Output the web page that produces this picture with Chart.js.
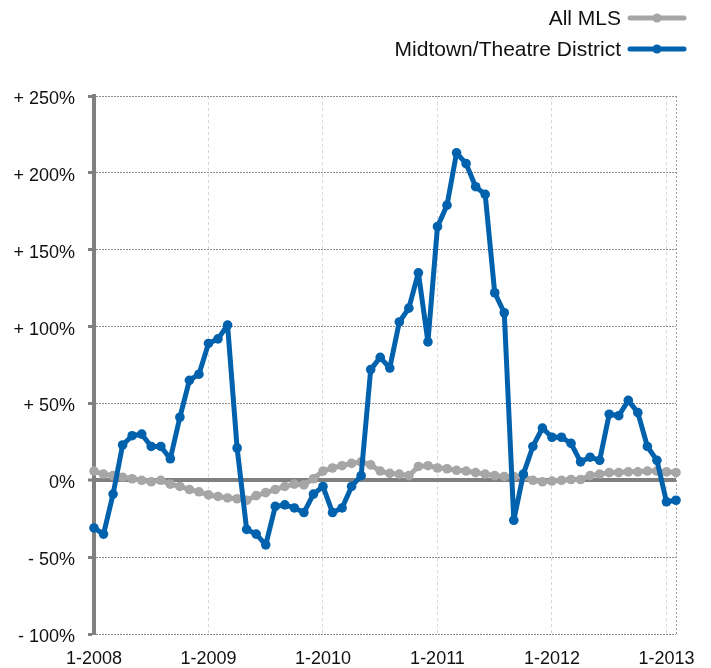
<!DOCTYPE html>
<html>
<head>
<meta charset="utf-8">
<script src="https://cdn.jsdelivr.net/npm/chart.js@4/dist/chart.umd.min.js"></script>
<style>
  html, body { margin: 0; padding: 0; background: #fff; }
  #wrap { width: 711px; height: 668px; }
</style>
</head>
<body>
<div id="wrap"><canvas id="priceChange" width="711" height="668"></canvas></div>
<script>
// monthly change vs. year before, 1-2008 .. 2-2013
var years = [2008, 2009, 2010, 2011, 2012, 2013];
var allMls = [6, 4, 3, 2, 1, 0, -1, 0, -2.5, -4, -6, -7.5, -9.5, -10.5, -11.5, -12, -13, -10, -8, -6,
  -4, -2.5, -3, 1, 6, 8, 9.5, 11, 12, 10, 6, 4.5, 4, 3, 9, 9.5, 8, 7.5, 6.5, 6,
  5, 4, 3, 2.5, 2.5, 2.5, 0, -1, -0.5, 0, 0.5, 0.5, 3, 4, 5, 5, 5.5, 5.5, 6, 6, 5.5, 5];
var midtown = [-31, -35, -9, 23, 29, 30, 22, 22, 14, 41, 65, 69, 89, 92, 101, 21, -32, -35, -42, -17,
  -16, -18, -21, -9, -4, -21, -18, -4, 3, 72, 80, 73, 103, 112, 135, 90, 165, 179, 213, 206,
  191, 186, 122, 109, -26, 4, 22, 34, 28, 28, 24, 12, 15, 13, 43, 42, 52, 44, 22, 13, -14, -13];
var yTicks = [-100, -50, 0, 50, 100, 150, 200, 250];

var months = [];
years.forEach(function(y) {
  for (var m = 1; m <= 12; m++) months.push(m + '-' + y);
});
months = months.slice(0, midtown.length);

var FONT = "'Liberation Sans', Arial, Helvetica, sans-serif";
var GRAY = '#a6a6a6';
var BLUE = '#0061ad';
var AXIS = '#808080';

// legend at top right: text, then a line sample with a dot
const rightLegend = {
  id: 'rightLegend',
  afterDraw: function(chart) {
    var ctx = chart.ctx;
    var rows = [chart.data.datasets[1], chart.data.datasets[0]];
    var ys = [18, 49];
    ctx.save();
    ctx.font = '21px ' + FONT;
    ctx.textAlign = 'right';
    ctx.textBaseline = 'middle';
    rows.forEach(function(ds, i) {
      ctx.fillStyle = '#111';
      ctx.fillText(ds.label, 621, ys[i] + 1);
      ctx.strokeStyle = ds.borderColor;
      ctx.lineWidth = 5;
      ctx.lineCap = 'round';
      ctx.beginPath();
      ctx.moveTo(630, ys[i]);
      ctx.lineTo(684, ys[i]);
      ctx.stroke();
      ctx.fillStyle = ds.borderColor;
      ctx.beginPath();
      ctx.arc(657, ys[i], 4.5, 0, Math.PI * 2);
      ctx.fill();
    });
    ctx.restore();
  }
};

var ctx = document.getElementById('priceChange').getContext('2d');
var chart = new Chart(ctx, {
  type: 'line',
  data: {
    labels: months,
    datasets: [{
      label: 'Midtown/Theatre District',
      data: midtown,
      borderColor: BLUE,
      backgroundColor: BLUE,
      borderWidth: 5,
      pointRadius: 4.8,
      pointBorderWidth: 0,
      tension: 0,
      clip: false,
      order: 1
    }, {
      label: 'All MLS',
      data: allMls,
      borderColor: GRAY,
      backgroundColor: GRAY,
      borderWidth: 5,
      pointRadius: 4.8,
      pointBorderWidth: 0,
      tension: 0,
      clip: false,
      order: 2
    }]
  },
  options: {
    responsive: false,
    animation: false,
    layout: { padding: { top: 96, right: 35, left: 0, bottom: 0 } },
    elements: { line: { borderCapStyle: 'round', borderJoinStyle: 'round' } },
    plugins: { legend: { display: false }, tooltip: { enabled: false } },
    scales: {
      x: {
        type: 'category',
        offset: false,
        afterFit: function(s) { s.height = 34; },
        border: {
          display: false,
          dash: function(c) { return c.index === months.length - 1 ? [2, 2] : [3, 3]; }
        },
        grid: {
          drawTicks: false,
          lineWidth: 1,
          color: function(c) {
            if (c.index === months.length - 1) return '#9a9a9a';
            if (c.index > 0 && c.index % 12 === 0) return '#d6d6d6';
            return 'rgba(0,0,0,0)';
          }
        },
        ticks: {
          autoSkip: false,
          maxRotation: 0,
          padding: 14,
          color: '#111',
          font: { family: FONT, size: 18 },
          callback: function(v, i) { return i % 12 === 0 ? months[i] : ''; }
        }
      },
      y: {
        min: -100,
        max: 250,
        afterFit: function(s) { s.width = 94; },
        afterBuildTicks: function(s) { s.ticks = yTicks.map(function(v) { return { value: v }; }); },
        border: {
          display: true,
          color: AXIS,
          width: 4,
          dash: function(c) {
            if (c.type !== 'tick') return [];
            return c.tick.value === 0 ? [] : [2, 1];
          }
        },
        grid: {
          color: function(c) { return c.tick && c.tick.value === 0 ? AXIS : '#8c8c8c'; },
          lineWidth: function(c) { return c.tick && c.tick.value === 0 ? 4 : 1; },
          drawTicks: true,
          tickLength: 6,
          tickWidth: 3,
          tickColor: AXIS
        },
        ticks: {
          padding: 13,
          labelOffset: 3,
          color: '#111',
          font: { family: FONT, size: 18 },
          callback: function(v) {
            if (v > 0) return '+ ' + v + '%';
            if (v < 0) return '- ' + (-v) + '%';
            return '0%';
          }
        }
      }
    }
  },
  plugins: [rightLegend]
});
</script>
</body>
</html>
